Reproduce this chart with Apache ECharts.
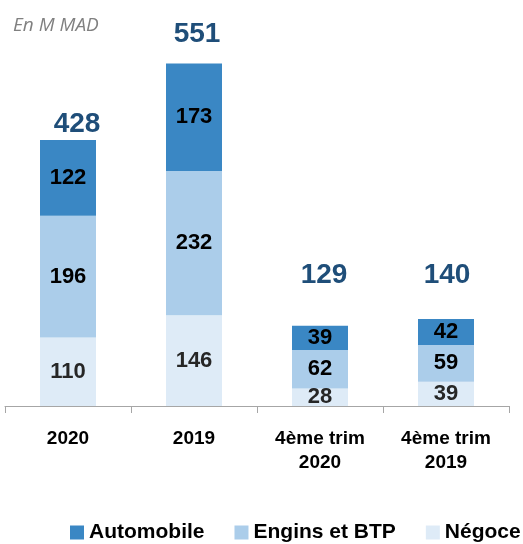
<!DOCTYPE html>
<html lang="fr">
<head>
  <meta charset="UTF-8">
  <title>Chiffre d'affaires</title>
  <style>
    html, body { margin: 0; padding: 0; background: #fff; }
    #chart { width: 523px; height: 544px; }
  </style>
</head>
<body>
<div id="chart"></div>
<script src="https://cdn.jsdelivr.net/npm/echarts@6/dist/echarts.min.js"></script>
<script>
  // data
  var categories = ['2020', '2019', '4ème trim\n2020', '4ème trim\n2019'];
  var automobile = [122, 173, 39, 42];
  var engins = [196, 232, 62, 59];
  var negoce = [110, 146, 28, 39];
  var totals = [428, 551, 129, 140];

  var font = "'Liberation Sans', Arial, sans-serif";

  // where each total label sits relative to the top of its bar
  var totalOffsets = [[9, -16], [3, -29], [4, -51], [1, -44]];

  var chart = echarts.init(document.getElementById('chart'));

  function segLabel(color) {
    return {
      show: true,
      position: 'inside',
      color: color,
      fontFamily: font,
      fontWeight: 'bold',
      fontSize: 22
    };
  }

  var option = {
    animation: false,
    graphic: [{
      type: 'text',
      left: 13,
      top: 16,
      style: {
        text: 'En M MAD',
        font: 'italic 19px "Open Sans", "Noto Sans", sans-serif',
        fill: '#808080'
      }
    }],
    legend: {
      left: 65,
      top: 517,
      width: 700,
      itemWidth: 14,
      itemHeight: 14,
      itemGap: 30,
      icon: 'rect',
      textStyle: {
        fontFamily: font,
        fontWeight: 'bold',
        fontSize: 21,
        color: '#000'
      },
      data: ['Automobile', 'Engins et BTP', 'Négoce']
    },
    grid: {
      left: 5,
      right: 14,
      top: 33,
      bottom: 138
    },
    xAxis: {
      type: 'category',
      data: categories,
      axisLine: { lineStyle: { color: '#a6a6a6', width: 1 } },
      axisTick: { show: true, length: 7, lineStyle: { color: '#a6a6a6' } },
      axisLabel: {
        margin: 21,
        color: '#000',
        fontFamily: font,
        fontWeight: 'bold',
        fontSize: 19,
        lineHeight: 24
      }
    },
    yAxis: {
      type: 'value',
      min: 0,
      max: 600,
      show: false,
      splitLine: { show: false }
    },
    series: [
      {
        name: 'Négoce',
        type: 'bar',
        stack: 'ca',
        barWidth: 56,
        data: negoce,
        itemStyle: { color: '#deebf7' },
        label: segLabel('#262626')
      },
      {
        name: 'Engins et BTP',
        type: 'bar',
        stack: 'ca',
        data: engins,
        itemStyle: { color: '#abcdea' },
        label: segLabel('#000')
      },
      {
        name: 'Automobile',
        type: 'bar',
        stack: 'ca',
        data: automobile,
        itemStyle: { color: '#3a87c4' },
        label: segLabel('#000')
      },
      {
        name: 'total',
        type: 'scatter',
        symbolSize: 0,
        silent: true,
        itemStyle: { opacity: 1 },
        data: totals.map(function (v, i) {
          return {
            value: v,
            label: { offset: totalOffsets[i] }
          };
        }),
        label: {
          show: true,
          position: 'inside',
          color: '#1f4e79',
          fontFamily: font,
          fontWeight: 'bold',
          fontSize: 28
        }
      }
    ]
  };

  chart.setOption(option);
</script>
</body>
</html>
